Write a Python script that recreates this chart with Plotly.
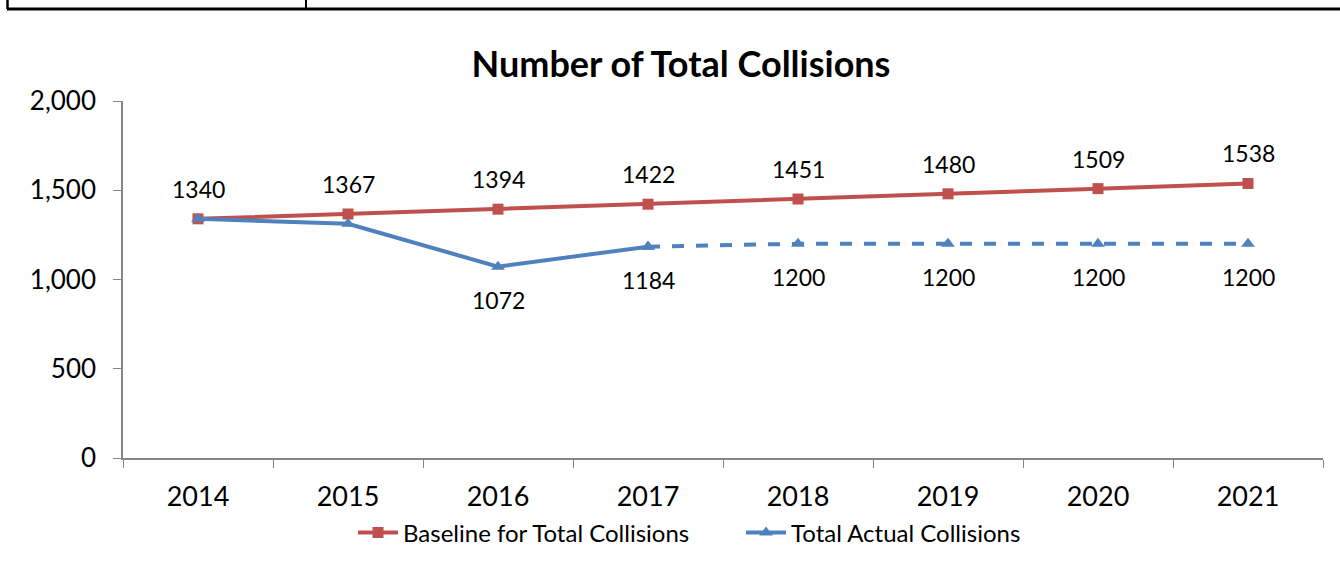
import plotly.graph_objects as go

years = ["2014", "2015", "2016", "2017", "2018", "2019", "2020", "2021"]
baseline = [1340, 1367, 1394, 1422, 1451, 1480, 1509, 1538]
actual_years = ["2014", "2015", "2016", "2017"]
actual = [1340, 1312, 1072, 1184]
projected_years = ["2017", "2018", "2019", "2020", "2021"]
projected = [1184, 1200, 1200, 1200, 1200]
baseline_labels = ["1340", "1367", "1394", "1422", "1451", "1480", "1509", "1538"]
actual_label_years = ["2016", "2017", "2018", "2019", "2020", "2021"]
actual_label_vals = [1072, 1184, 1200, 1200, 1200, 1200]

RED = "#C0504D"
BLUE = "#4F81BD"
FONT = "Lato"

fig = go.Figure()
fig.add_trace(go.Scatter(
    x=years, y=baseline, mode="lines+markers", name="Baseline for Total Collisions",
    line=dict(color=RED, width=4), marker=dict(symbol="square", size=11, color=RED)))
fig.add_trace(go.Scatter(
    x=actual_years, y=actual, mode="lines+markers", name="Total Actual Collisions",
    line=dict(color=BLUE, width=4), marker=dict(symbol="triangle-up", size=12, color=BLUE)))
fig.add_trace(go.Scatter(
    x=projected_years, y=projected, mode="lines+markers", showlegend=False,
    line=dict(color=BLUE, width=4, dash="dash"),
    marker=dict(symbol="triangle-up", size=12, color=BLUE)))

annotations = []
for x, v, t in zip(years, baseline, baseline_labels):
    annotations.append(dict(x=years.index(x), y=v, text=t, showarrow=False, yshift=30,
                            font=dict(size=23, color="black", family=FONT)))
for x, v in zip(actual_label_years, actual_label_vals):
    annotations.append(dict(x=years.index(x), y=v, text=str(v), showarrow=False, yshift=-33,
                            font=dict(size=23, color="black", family=FONT)))

W, H = 1340, 571
ml, mr, mt, mb = 123, 17, 101, 113
pw, ph = W - ml - mr, H - mt - mb

def px(xp):
    return (xp - ml) / pw

def py(yp):
    return (H - mb - yp) / ph

shapes = [
    dict(type="line", xref="paper", yref="paper", x0=px(7), x1=px(1345), y0=py(9), y1=py(9),
         line=dict(color="black", width=3)),
    dict(type="line", xref="paper", yref="paper", x0=px(7.5), x1=px(7.5), y0=py(-5), y1=py(9),
         line=dict(color="black", width=2.5)),
    dict(type="line", xref="paper", yref="paper", x0=px(306), x1=px(306), y0=py(-5), y1=py(9),
         line=dict(color="black", width=2)),
]

fig.update_layout(
    width=W, height=H,
    margin=dict(l=ml, r=mr, t=mt, b=mb),
    paper_bgcolor="white", plot_bgcolor="white",
    font=dict(family=FONT, color="black"),
    title=dict(text="<b>Number of Total Collisions</b>", x=(681) / W, xanchor="center",
               y=1 - 64 / H, yanchor="middle", font=dict(size=36, family=FONT)),
    xaxis=dict(type="category", showgrid=False, showline=True, linecolor="#868686", linewidth=1.5,
               ticks="outside", tickson="boundaries", ticklen=8, tickcolor="#868686",
               tickfont=dict(size=27, family=FONT), range=[-0.5, 7.5], ticklabelstandoff=14),
    yaxis=dict(range=[0, 2000], tickvals=[0, 500, 1000, 1500, 2000],
               ticktext=["0", "500", "1,000", "1,500", "2,000"], showgrid=False,
               showline=True, linecolor="#868686", linewidth=1.5, ticks="outside", ticklen=8,
               tickcolor="#868686", tickfont=dict(size=26, family=FONT), zeroline=False,
               ticklabelstandoff=12),
    legend=dict(orientation="h", x=px(353), xanchor="left", y=py(533), yanchor="middle",
                font=dict(size=24, family=FONT), itemwidth=40,
                entrywidth=333, entrywidthmode="pixels"),
    annotations=annotations,
    shapes=shapes,
)

fig.write_html("out.html")
